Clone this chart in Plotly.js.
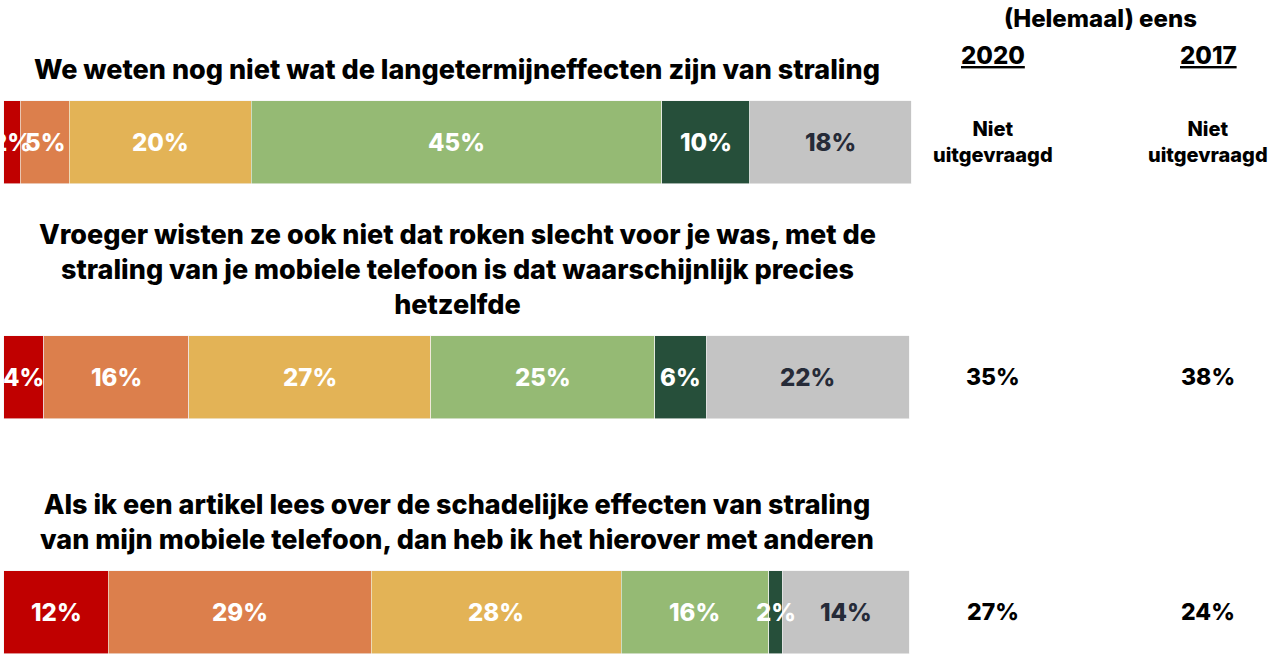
<!DOCTYPE html>
<html>
<head>
<meta charset="utf-8">
<script src="https://cdn.plot.ly/plotly-3.0.1.min.js"></script>
<style>html,body{margin:0;padding:0;background:#fff;}#chart{width:1270px;height:655px;}</style>
</head>
<body>
<div id="chart"></div>
<script>
var statements = [
  "We weten nog niet wat de langetermijneffecten zijn van straling",
  "Vroeger wisten ze ook niet dat roken slecht voor je was, met de<br>straling van je mobiele telefoon is dat waarschijnlijk precies<br>hetzelfde",
  "Als ik een artikel lees over de schadelijke effecten van straling<br>van mijn mobiele telefoon, dan heb ik het hierover met anderen"
];
var seriesNames = ["Helemaal oneens", "Oneens", "Neutraal", "Eens", "Helemaal eens", "Weet niet"];
var helemaalOneens = [1.8, 4.4, 11.5];
var oneens = [5.4, 16.0, 29.0];
var neutraal = [20.1, 26.7, 27.6];
var eens = [45.3, 24.7, 16.3];
var helemaalEens = [9.7, 5.7, 1.5];
var weetNiet = [17.8, 22.4, 14.0];
var labelsHelemaalOneens = ["2%", "4%", "12%"];
var labelsOneens = ["5%", "16%", "29%"];
var labelsNeutraal = ["20%", "27%", "28%"];
var labelsEens = ["45%", "25%", "16%"];
var labelsHelemaalEens = ["10%", "6%", "2%"];
var labelsWeetNiet = ["18%", "22%", "14%"];
var agree2020 = ["Niet<br>uitgevraagd", "35%", "27%"];
var agree2017 = ["Niet<br>uitgevraagd", "38%", "24%"];
var headerText = "(Helemaal) eens";
var years = ["2020", "2017"];

var colors = ["#C00000", "#DC7F4C", "#E3B356", "#95BA74", "#264F3A", "#C4C4C4"];
var textColors = ["#FFFFFF", "#FFFFFF", "#FFFFFF", "#FFFFFF", "#FFFFFF", "#262B38"];
var seriesValues = [helemaalOneens, oneens, neutraal, eens, helemaalEens, weetNiet];
var seriesLabels = [labelsHelemaalOneens, labelsOneens, labelsNeutraal, labelsEens, labelsHelemaalEens, labelsWeetNiet];

var FONT = "Inter, 'Open Sans', sans-serif";

var traces = seriesNames.map(function (name, i) {
  return {
    type: "bar",
    orientation: "h",
    name: name,
    y: statements,
    x: seriesValues[i],
    marker: {color: colors[i], line: {color: "#F4F4F4", width: 0.6}},
    width: 0.353,
    hoverinfo: "skip"
  };
});

var annotations = [];
// segment labels on top of all bars, centred in each segment
statements.forEach(function (s, j) {
  var cum = 0;
  seriesValues.forEach(function (vals, i) {
    var v = vals[j];
    annotations.push({
      xref: "x", yref: "y", x: cum + v / 2, y: s, xanchor: "center", yanchor: "middle",
      text: seriesLabels[i][j], showarrow: false,
      font: {family: FONT, size: 24, color: textColors[i], weight: 800}
    });
    cum += v;
  });
});
statements.forEach(function (s, i) {
  annotations.push({
    xref: "x", yref: "y", x: 50, y: s, yanchor: "bottom", xanchor: "center",
    yshift: 54, text: s, showarrow: false, align: "center",
    font: {family: FONT, size: 27, color: "#000", weight: 800}
  });
  annotations.push({
    xref: "paper", yref: "y", x: 993 / 1270, y: s, xanchor: "center", yanchor: "middle",
    text: agree2020[i], showarrow: false, align: "center",
    font: {family: FONT, size: i === 0 ? 20 : 23, color: "#000", weight: 800}
  });
  annotations.push({
    xref: "paper", yref: "y", x: 1208 / 1270, y: s, xanchor: "center", yanchor: "middle",
    text: agree2017[i], showarrow: false, align: "center",
    font: {family: FONT, size: i === 0 ? 20 : 23, color: "#000", weight: 800}
  });
});
annotations.push({
  xref: "paper", yref: "paper", x: 1100 / 1270, y: 1 - 18 / 655, xanchor: "center", yanchor: "middle",
  text: headerText, showarrow: false, font: {family: FONT, size: 24, color: "#000", weight: 800}
});
annotations.push({
  xref: "paper", yref: "paper", x: 993 / 1270, y: 1 - 56 / 655, xanchor: "center", yanchor: "middle",
  text: "<u>" + years[0] + "</u>", showarrow: false, font: {family: FONT, size: 24, color: "#000", weight: 800}
});
annotations.push({
  xref: "paper", yref: "paper", x: 1208 / 1270, y: 1 - 56 / 655, xanchor: "center", yanchor: "middle",
  text: "<u>" + years[1] + "</u>", showarrow: false, font: {family: FONT, size: 24, color: "#000", weight: 800}
});

var layout = {
  width: 1270, height: 655,
  margin: {l: 0, r: 0, t: 0, b: 0, pad: 0},
  barmode: "stack",
  bargap: 0,
  showlegend: false,
  paper_bgcolor: "#FFFFFF",
  plot_bgcolor: "#FFFFFF",
  xaxis: {range: [-0.44, 139.7], visible: false, fixedrange: true},
  yaxis: {type: "category", categoryorder: "array", categoryarray: statements, range: [2.181, -0.606], visible: false, fixedrange: true},
  annotations: annotations,
  font: {family: FONT}
};

Plotly.newPlot("chart", traces, layout, {displayModeBar: false, staticPlot: true});
</script>
</body>
</html>
